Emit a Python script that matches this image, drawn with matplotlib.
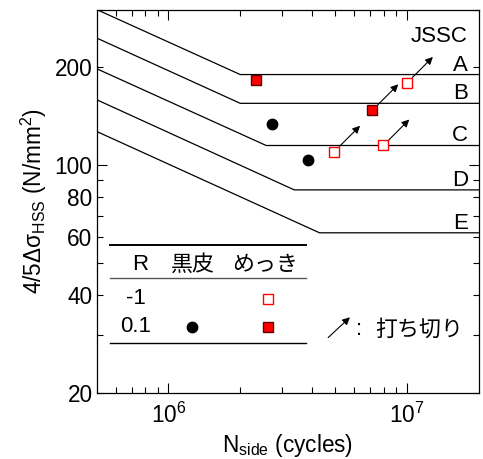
import matplotlib
matplotlib.use("Agg")
import matplotlib.pyplot as plt
import matplotlib.transforms as mtransforms
from matplotlib.ticker import FixedLocator, NullFormatter, FixedFormatter

plt.rcParams['font.family'] = ['Liberation Sans', 'Noto Sans CJK JP', 'DejaVu Sans']
plt.rcParams['mathtext.fontset'] = 'custom'
plt.rcParams['mathtext.rm'] = 'Liberation Sans'
plt.rcParams['mathtext.it'] = 'Liberation Sans:italic'
plt.rcParams['mathtext.bf'] = 'Liberation Sans:bold'

# JSSC design curves (vertices)
classes = ['A', 'B', 'C', 'D', 'E']
start_N = 5e5
end_N = 2e7
start_S = [301, 246, 198, 159, 127]
knee_N = [2.0e6, 2.0e6, 2.57e6, 3.37e6, 4.3e6]
cutoff_S = [190, 155, 115, 84, 62]

# Test data
plating_R01_N = [2.34e6, 7.16e6]
plating_R01_S = [183, 147.5]
plating_R01_runout = [False, True]

plating_Rm1_N = [4.95e6, 7.96e6, 1.0e7]
plating_Rm1_S = [110, 115, 179]
plating_Rm1_runout = [True, True, True]

black_R01_N = [2.71e6, 3.85e6]
black_R01_S = [134, 104]

FS = 16.3

fig = plt.figure(figsize=(4.83, 4.59), dpi=100)
ax = fig.add_axes([0.2002, 0.1445, 0.7908, 0.8337])
ax.set_xscale('log')
ax.set_yscale('log')
ax.set_xlim(5e5, 2e7)
ax.set_ylim(20, 300)

for c, s0, nk, sc in zip(classes, start_S, knee_N, cutoff_S):
    ax.plot([start_N, nk, end_N], [s0, sc, sc], color='black', lw=0.9, solid_joinstyle='miter')
    tr = ax.get_yaxis_transform() + mtransforms.ScaledTranslation(0, 0.04, fig.dpi_scale_trans)
    ax.text(0.972, sc, c, transform=tr, ha='right', va='baseline', fontsize=16)

ax.text(0.972, 0.932, 'JSSC', transform=ax.transAxes, ha='right', va='center', fontsize=16)

red = '#ff0000'
ms = 7.5
ax.plot(black_R01_N, black_R01_S, 'o', color='black', ms=ms, zorder=5)
ax.plot(plating_R01_N, plating_R01_S, 's', mfc=red, mec='#600000', mew=1.0, ms=ms, zorder=5)
ax.plot(plating_Rm1_N, plating_Rm1_S, 's', mfc='white', mec=red, mew=1.0, ms=ms, zorder=5)

def runout_arrow(x, y):
    t_start = ax.transData + mtransforms.ScaledTranslation(0.055, 0.055, fig.dpi_scale_trans)
    t_end = ax.transData + mtransforms.ScaledTranslation(0.26, 0.26, fig.dpi_scale_trans)
    ax.annotate('', xy=(x, y), xycoords=t_end, xytext=(x, y), textcoords=t_start,
                arrowprops=dict(arrowstyle='-|>', color='black', lw=0.8,
                                mutation_scale=11, shrinkA=0, shrinkB=0), zorder=6)

for x, y, r in zip(plating_R01_N, plating_R01_S, plating_R01_runout):
    if r:
        runout_arrow(x, y)
for x, y, r in zip(plating_Rm1_N, plating_Rm1_S, plating_Rm1_runout):
    if r:
        runout_arrow(x, y)

# Legend table
ta = ax.transAxes
ax.plot([0.035, 0.548], [0.386, 0.386], color='black', lw=1.4, transform=ta)
ax.plot([0.035, 0.548], [0.3005, 0.3005], color='#555555', lw=1.0, transform=ta)
ax.plot([0.035, 0.548], [0.129, 0.129], color='black', lw=1.0, transform=ta)
ax.text(0.1134, 0.334, 'R', transform=ta, ha='center', va='center', fontsize=16)
ax.text(0.253, 0.334, '黒皮', transform=ta, ha='center', va='center', fontsize=15.8,
        family=['Noto Sans CJK JP'])
ax.text(0.4406, 0.334, 'めっき', transform=ta, ha='center', va='center', fontsize=15.8,
        family=['Noto Sans CJK JP'])
ax.text(0.103, 0.245, '-1', transform=ta, ha='center', va='center', fontsize=16)
ax.text(0.103, 0.1725, '0.1', transform=ta, ha='center', va='center', fontsize=16)
ax.plot([0.449], [0.245], 's', mfc='white', mec=red, mew=1.0, ms=ms, transform=ta)
ax.plot([0.2487], [0.1725], 'o', color='black', ms=ms, transform=ta)
ax.plot([0.449], [0.1725], 's', mfc=red, mec='#600000', mew=1.0, ms=ms, transform=ta)

ax.annotate('', xy=(0.663, 0.197), xycoords=ta, xytext=(0.606, 0.144), textcoords=ta,
            arrowprops=dict(arrowstyle='-|>', color='black', lw=0.8,
                            mutation_scale=11, shrinkA=0, shrinkB=0))
ax.text(0.686, 0.164, ':', transform=ta, ha='center', va='center', fontsize=16)
ax.text(0.7285, 0.164, '打ち切り', transform=ta, ha='left', va='center', fontsize=15.8,
        family=['Noto Sans CJK JP'])

# Ticks
ax.yaxis.set_major_locator(FixedLocator([100]))
ax.yaxis.set_major_formatter(FixedFormatter(['100']))
ax.yaxis.set_minor_locator(FixedLocator([20, 30, 40, 50, 60, 70, 80, 90, 200, 300]))
ax.yaxis.set_minor_formatter(FixedFormatter(['20', '', '40', '', '60', '', '80', '', '200', '']))
ax.xaxis.set_major_locator(FixedLocator([1e6, 1e7]))
ax.xaxis.set_major_formatter(FixedFormatter([r'10$^{6}$', r'10$^{7}$']))
ax.xaxis.set_minor_locator(FixedLocator([6e5, 7e5, 8e5, 9e5, 2e6, 3e6, 4e6, 5e6, 6e6, 7e6, 8e6, 9e6]))
ax.xaxis.set_minor_formatter(NullFormatter())
ax.tick_params(which='both', direction='in', top=True, right=True, labelsize=FS, width=0.8)
ax.tick_params(which='major', length=7)
ax.tick_params(which='minor', length=4.5)
ax.tick_params(axis='y', which='both', pad=3)
ax.tick_params(axis='x', which='both', pad=7.5)
for sp in ax.spines.values():
    sp.set_linewidth(0.9)

ax.set_xlabel(r'N$_{\mathrm{side}}$ (cycles)', fontsize=FS, labelpad=3)
ax.set_ylabel('4/5Δσ$_{\\mathrm{HSS}}$ (N/mm$^{2}$)', fontsize=FS, labelpad=4)

fig.savefig('out.png', dpi=100)
